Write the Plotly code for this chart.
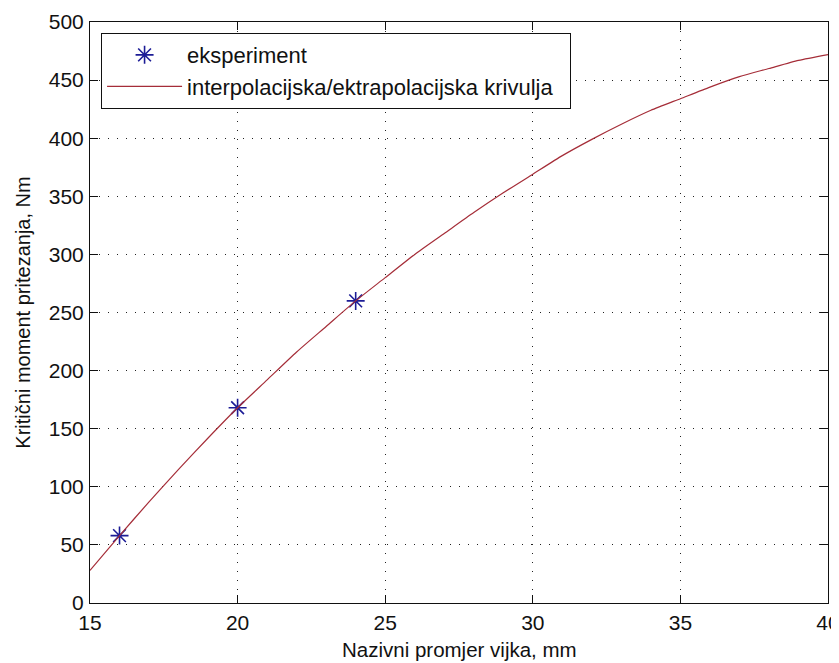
import plotly.graph_objects as go

# Experimental data
exp_x = [16, 20, 24]
exp_y = [58, 168, 260]

# Interpolation/extrapolation curve
curve_x = [15, 16, 17, 18, 19, 20, 21, 22, 23, 24, 25, 26, 27, 28, 29, 30,
           31, 32, 33, 34, 35, 36, 37, 38, 39, 40]
curve_y = [28, 58, 87, 115, 142, 168, 192, 216, 238, 260, 280, 300, 318, 336,
           353, 369, 385, 399, 412, 424, 434, 444, 453, 460, 467, 472]

x_ticks = [15, 20, 25, 30, 35, 40]
y_ticks = [0, 50, 100, 150, 200, 250, 300, 350, 400, 450, 500]

x_title = "Nazivni promjer vijka, mm"
y_title = "Kritični moment pritezanja, Nm"

FONT = "Liberation Sans, Arial, sans-serif"
FS = 21

fig = go.Figure()
fig.add_trace(go.Scatter(
    x=exp_x, y=exp_y, mode="markers", name="eksperiment",
    marker=dict(symbol="asterisk", size=15, color="#1c1c96",
                line=dict(color="#1c1c96", width=1.6)),
))
fig.add_trace(go.Scatter(
    x=curve_x, y=curve_y, mode="lines",
    name="interpolacijska/ektrapolacijska krivulja\u00a0\u00a0",
    line=dict(color="#a52d38", width=1.2, shape="spline", smoothing=0.6),
))

axis_common = dict(
    showline=True, linecolor="#111", linewidth=1, mirror="ticks",
    ticks="inside", ticklen=8, tickcolor="#111", tickwidth=1,
    showgrid=True, gridcolor="#222", gridwidth=1, griddash="1px,8px",
    zeroline=False, tickfont=dict(family=FONT, size=FS, color="#111"),
    automargin=False, ticklabeloverflow="allow",
)

fig.update_xaxes(range=[15, 40], tickvals=x_ticks,
                 ticklabelstandoff=1, **axis_common)
fig.update_yaxes(range=[0, 500], tickvals=y_ticks,
                 title=dict(text=y_title,
                            font=dict(family=FONT, size=20, color="#111"),
                            standoff=12),
                 ticklabelstandoff=1, **axis_common)

fig.add_annotation(
    text=x_title, xref="paper", yref="paper", x=0.5, y=-0.057,
    xanchor="center", yanchor="top", showarrow=False,
    font=dict(family=FONT, size=20.5, color="#111"),
)

# The page body has an 8px default margin, so the figure is sized to fit the window
fig.update_layout(
    width=831, height=655,
    margin=dict(l=82, r=11, t=14, b=60),
    paper_bgcolor="white", plot_bgcolor="white",
    font=dict(family=FONT, size=FS, color="#111"),
    showlegend=True,
    legend=dict(x=0.015, y=0.981, xanchor="left", yanchor="top",
                bgcolor="white", bordercolor="#111", borderwidth=1,
                itemwidth=75, font=dict(family=FONT, size=22, color="#111"),
                tracegroupgap=0),
)

fig.write_html("out.html")
